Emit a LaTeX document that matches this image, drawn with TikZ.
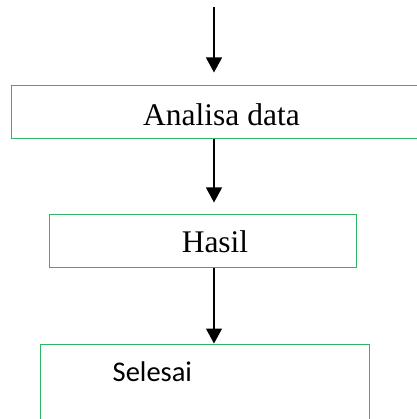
\documentclass[tikz,border=0pt]{standalone}
\usepackage{fontspec}
\setmainfont{Liberation Serif}
\newfontfamily\boxsans{Carlito}
\usetikzlibrary{arrows.meta}
\definecolor{boxgreen}{RGB}{45,180,100}
\tikzset{
  stepbox/.style={draw=boxgreen,line width=1pt,rectangle,inner sep=0pt},
  flow/.style={line width=1.2pt,-{Triangle[length=15pt,width=16pt]}},
  boxtext/.style={inner sep=0pt,font=\fontsize{31.5}{36}\selectfont}
}
\begin{document}
\begin{tikzpicture}[x=1pt,y=-1pt]
  \useasboundingbox (0,0) rectangle (416,419);
  % boxes
  \node[stepbox,minimum width=421pt,minimum height=53pt] (analisa) at (221.5,112.5) {};
  \node[stepbox,minimum width=307pt,minimum height=53pt] (hasil) at (203,240.5) {};
  \node[stepbox,minimum width=329pt,minimum height=100pt] (selesai) at (204.5,394) {};
  % texts
  \node[boxtext,anchor=base] (analisatxt) at (221.5,126) {Analisa data};
  \node[boxtext,anchor=base] (hasiltxt) at (215,252.5) {Hasil};
  \node[inner sep=0pt,anchor=base west,font=\boxsans\fontsize{28.5}{32}\selectfont] (selesaitxt) at (112.5,381) {Selesai};
  % arrows
  \coordinate (start) at (214,7);
  \draw[flow,shorten >=13pt] (start) -- (start |- analisa.north);
  \draw[flow,shorten >=11pt] (start |- analisa.south) -- (start |- hasil.north);
  \draw[flow] (start |- hasil.south) -- (start |- selesai.north);
\end{tikzpicture}
\end{document}
